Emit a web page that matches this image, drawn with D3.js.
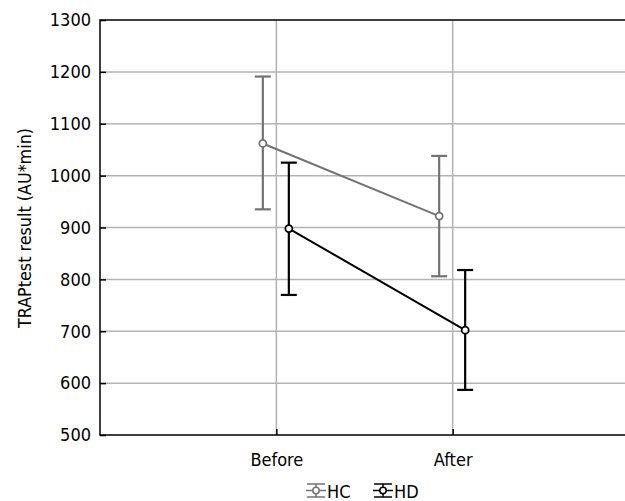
<!DOCTYPE html>
<html><head><meta charset="utf-8">
<script src="https://cdn.jsdelivr.net/npm/d3@7"></script>
<style>
body{margin:0;background:#fff;}
svg text{font-family:"DejaVu Sans Condensed","DejaVu Sans",sans-serif;font-stretch:condensed;}
</style></head>
<body><svg id="c" width="625" height="501"></svg>
<script>
const categories = ["Before", "After"];
const yTicks = [500, 600, 700, 800, 900, 1000, 1100, 1200, 1300];
const seriesNames = ["HC", "HD"];
const hcMean = [1062, 922];
const hcLow = [935, 806];
const hcHigh = [1191, 1038];
const hdMean = [898, 702];
const hdLow = [770, 587];
const hdHigh = [1025, 818];
const colors = ["#737373", "#000000"];

const series = [
  {name: seriesNames[0], mean: hcMean, lo: hcLow, hi: hcHigh, color: colors[0], off: -13.5},
  {name: seriesNames[1], mean: hdMean, lo: hdLow, hi: hdHigh, color: colors[1], off: 12.5}
];

const svg = d3.select("#c");
const L = 100, T = 20, B = 435, R = 629;
const x = d3.scaleLinear().domain([0, 3]).range([L, R]);
const y = d3.scaleLinear().domain([500, 1300]).range([B, T]);

const grid = svg.append("g");
grid.selectAll("line.h").data(yTicks.slice(1, -1)).join("line")
  .attr("x1", L).attr("x2", R).attr("y1", d => y(d)).attr("y2", d => y(d))
  .attr("stroke", "#b3b3b3").attr("stroke-width", 1.5);
grid.selectAll("line.v").data(categories).join("line")
  .attr("x1", (d, i) => x(i + 1)).attr("x2", (d, i) => x(i + 1))
  .attr("y1", T).attr("y2", B)
  .attr("stroke", "#b3b3b3").attr("stroke-width", 1.5);

// frame
svg.append("rect").attr("x", L).attr("y", T).attr("width", R - L).attr("height", B - T)
  .attr("fill", "none").attr("stroke", "#000").attr("stroke-width", 1.5);

// y axis
const yAxis = d3.axisLeft(y).tickValues(yTicks).tickSize(-6).tickPadding(9).tickFormat(d3.format("d"));
const gy = svg.append("g").attr("transform", `translate(${L},0)`).call(yAxis);
gy.select(".domain").remove();
gy.selectAll(".tick line").attr("stroke", "#000").attr("stroke-width", 1.5);
gy.selectAll(".tick text").attr("font-size", 18).attr("fill", "#000").attr("font-family", null);

// x axis
const xAxis = d3.axisBottom(x).tickValues([1, 2]).tickSize(-6).tickPadding(18)
  .tickFormat(d => categories[d - 1]);
const gx = svg.append("g").attr("transform", `translate(0,${B})`).call(xAxis);
gx.select(".domain").remove();
gx.selectAll(".tick line").attr("stroke", "#000").attr("stroke-width", 1.5);
gx.selectAll(".tick text").attr("font-size", 18).attr("fill", "#000").attr("font-family", null);

// y title
svg.append("text").attr("transform", `translate(31,228) rotate(-90)`)
  .attr("text-anchor", "middle").attr("font-size", 17).attr("fill", "#000")
  .attr("textLength", 200).attr("lengthAdjust", "spacingAndGlyphs")
  .text("TRAPtest result (AU*min)");

// series
const cap = 8;
series.forEach(s => {
  const g = svg.append("g");
  const px = i => x(i + 1) + s.off;
  g.append("path")
    .attr("d", d3.line()(s.mean.map((m, i) => [px(i), y(m)])))
    .attr("fill", "none").attr("stroke", s.color).attr("stroke-width", 2);
  s.mean.forEach((m, i) => {
    g.append("line").attr("x1", px(i)).attr("x2", px(i)).attr("y1", y(s.lo[i])).attr("y2", y(s.hi[i]))
      .attr("stroke", s.color).attr("stroke-width", 2.2);
    [s.lo[i], s.hi[i]].forEach(v => {
      g.append("line").attr("x1", px(i) - cap).attr("x2", px(i) + cap).attr("y1", y(v)).attr("y2", y(v))
        .attr("stroke", s.color).attr("stroke-width", 2.2);
    });
    g.append("circle").attr("cx", px(i)).attr("cy", y(m)).attr("r", 3.5)
      .attr("fill", "#fff").attr("stroke", s.color).attr("stroke-width", 1.8);
  });
});

// legend
const leg = svg.append("g");
const legX = [316, 383];
series.forEach((s, k) => {
  const cx = legX[k], cy = 490.5;
  const g = leg.append("g");
  g.append("line").attr("x1", cx).attr("x2", cx).attr("y1", cy - 6.5).attr("y2", cy + 6.5).attr("stroke", s.color).attr("stroke-width", 1.5);
  [cy - 6.5, cy + 6.5].forEach(yy => g.append("line").attr("x1", cx - 9).attr("x2", cx + 9).attr("y1", yy).attr("y2", yy).attr("stroke", s.color).attr("stroke-width", 1.5));
  g.append("line").attr("x1", cx - 10).attr("x2", cx + 10).attr("y1", cy).attr("y2", cy).attr("stroke", s.color).attr("stroke-width", 1.5);
  g.append("circle").attr("cx", cx).attr("cy", cy).attr("r", 3.2).attr("fill", "#fff").attr("stroke", s.color).attr("stroke-width", 1.5);
  g.append("text").attr("x", cx + 11).attr("y", 497.5).attr("font-size", 18).attr("fill", "#000").text(s.name);
});
</script></body></html>
